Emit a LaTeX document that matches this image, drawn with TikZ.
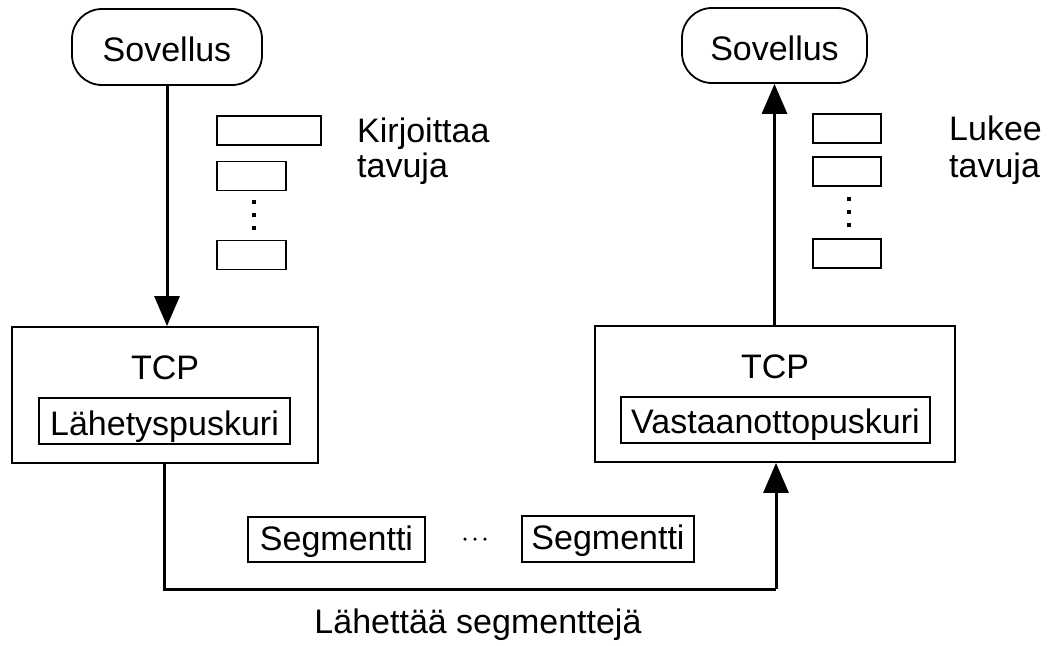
\documentclass[tikz,border=0pt]{standalone}
\usepackage{fontspec}
\setmainfont{Liberation Sans}
\usetikzlibrary{arrows.meta}
\begin{document}
\begin{tikzpicture}[x=1pt,y=-1pt,
  lbl/.style={inner sep=0pt, font=\fontsize{34}{40}\selectfont, anchor=base},
  appbox/.style={draw, line width=1.8pt, rounded corners=30pt, inner sep=0pt},
  tcpbox/.style={draw, line width=1.8pt, inner sep=0pt},
  bufbox/.style={draw, line width=1.6pt, inner sep=0pt},
  bytebox/.style={draw, line width=1.6pt, inner sep=0pt, minimum height=29pt},
  vdot/.style={fill, inner sep=0pt, minimum size=4pt},
  hdot/.style={fill, circle, inner sep=0pt, minimum size=3.5pt},
  flow/.style={line width=3pt, -{Triangle[length=30pt,width=25pt]}},
  wire/.style={line width=3pt}
]
\useasboundingbox (0,0) rectangle (1056,645);

% applications
\node[appbox, minimum width=190pt, minimum height=76pt] (appL) at (167,47) {};
\node[lbl] (appLt) at (167,61) {Sovellus};
\node[appbox, minimum width=185pt, minimum height=75pt] (appR) at (774.5,45.5) {};
\node[lbl] (appRt) at (774.5,60) {Sovellus};

% TCP endpoints
\node[tcpbox, minimum width=306pt, minimum height=136pt] (tcpL) at (165,395) {};
\node[lbl] (tcpLt) at (165,379) {TCP};
\node[bufbox, minimum width=251pt, minimum height=46pt] (bufL) at (164.5,421) {};
\node[lbl] (bufLt) at (164.5,435) {Lähetyspuskuri};

\node[tcpbox, minimum width=360pt, minimum height=136pt] (tcpR) at (775,394) {};
\node[lbl] (tcpRt) at (775,378) {TCP};
\node[bufbox, minimum width=309pt, minimum height=46pt] (bufR) at (775.5,420) {};
\node[lbl] (bufRt) at (775.5,433) {Vastaanottopuskuri};

% bytes written by the sender
\node[bytebox, minimum width=104pt] (wb1) at (269,130.5) {};
\node[bytebox, minimum width=69pt] (wb2) at (251.5,176) {};
\node[vdot] (wd1) at (254,202) {};
\node[vdot] (wd2) at (254,215) {};
\node[vdot] (wd3) at (254,228) {};
\node[bytebox, minimum width=69pt] (wb3) at (251.5,255) {};
\node[lbl, anchor=base west] (wt1) at (357,142) {Kirjoittaa};
\node[lbl, anchor=base west] (wt2) at (357,177) {tavuja};

% bytes read by the receiver
\node[bytebox, minimum width=68pt] (rb1) at (847,128.5) {};
\node[bytebox, minimum width=68pt] (rb2) at (847,171.5) {};
\node[vdot] (rd1) at (849,199) {};
\node[vdot] (rd2) at (849,212) {};
\node[vdot] (rd3) at (849,225) {};
\node[bytebox, minimum width=68pt] (rb3) at (847,253.5) {};
\node[lbl, anchor=base west] (rt1) at (949,140) {Lukee};
\node[lbl, anchor=base west] (rt2) at (949,177) {tavuja};

% segments in transit
\node[bufbox, minimum width=177pt, minimum height=45pt] (segA) at (336.5,539.5) {};
\node[lbl] (segAt) at (336.5,550) {Segmentti};
\node[hdot] (sd1) at (465,539) {};
\node[hdot] (sd2) at (475,539) {};
\node[hdot] (sd3) at (485,539) {};
\node[bufbox, minimum width=172pt, minimum height=46pt] (segB) at (608,539) {};
\node[lbl] (segBt) at (608,549) {Segmentti};

\node[lbl] (sendt) at (478,633) {Lähettää segmenttejä};

% connectors
\coordinate (cL) at (164,589);
\coordinate (cR) at (776,589);
\draw[flow] (appL.south) -- (tcpL.north -| appL.south);
\draw[wire] (tcpL.south -| cL) -- (cL) -- (cR);
\draw[flow] (cR) -- (tcpR.south -| cR);
\draw[flow] (tcpR.north -| appR.south) -- (appR.south);
\end{tikzpicture}
\end{document}
